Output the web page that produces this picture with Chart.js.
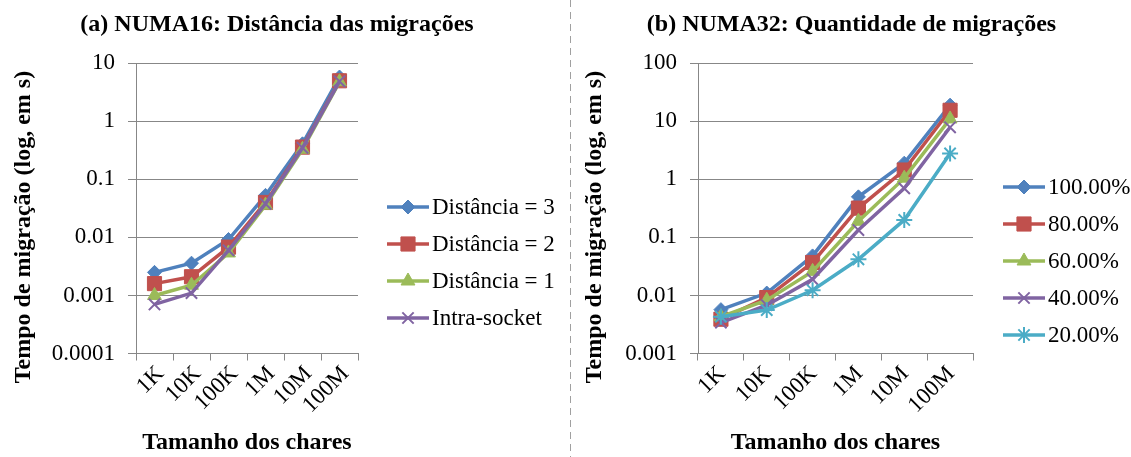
<!DOCTYPE html>
<html>
<head>
<meta charset="utf-8">
<script src="https://cdn.jsdelivr.net/npm/chart.js"></script>
<style>
  html, body { margin: 0; padding: 0; background: #fff; }
  body { width: 1131px; height: 457px; position: relative; overflow: hidden; }
  #left { position: absolute; left: 0; top: 0; }
  #right { position: absolute; left: 572px; top: 0; }
  #sep {
    position: absolute; left: 570px; top: 0; width: 1px; height: 457px;
    background: repeating-linear-gradient(to bottom, #a0a0a0 0 7px, transparent 7px 12px);
  }
</style>
</head>
<body>
<canvas id="left" width="570" height="457"></canvas>
<div id="sep"></div>
<canvas id="right" width="559" height="457"></canvas>
<script>
// categories (x axis)
const categories = ['1K', '10K', '100K', '1M', '10M', '100M'];

// (a) NUMA16 - migration time per distance (s)
const dist3 = [0.0025, 0.0036, 0.0092, 0.053, 0.41, 5.8];
const dist2 = [0.0016, 0.0021, 0.0068, 0.040, 0.36, 5.0];
const dist1 = [0.0010, 0.0015, 0.0054, 0.036, 0.33, 4.8];
const intraSocket = [0.0007, 0.0011, 0.0060, 0.038, 0.35, 4.9];

// (b) NUMA32 - migration time per amount of migrations (s)
const pct100 = [0.0057, 0.011, 0.048, 0.50, 1.9, 19];
const pct80 = [0.0039, 0.0092, 0.037, 0.32, 1.45, 15.5];
const pct60 = [0.0043, 0.0083, 0.026, 0.19, 1.05, 11];
const pct40 = [0.0034, 0.0068, 0.019, 0.134, 0.70, 7.9];
const pct20 = [0.0043, 0.0056, 0.0123, 0.042, 0.20, 2.8];

// y tick values and labels
const leftTicks = [0.0001, 0.001, 0.01, 0.1, 1, 10];
const leftTickLabels = ['0.0001', '0.001', '0.01', '0.1', '1', '10'];
const rightTicks = [0.001, 0.01, 0.1, 1, 10, 100];
const rightTickLabels = ['0.001', '0.01', '0.1', '1', '10', '100'];

const FONT = 'Liberation Serif';
Chart.defaults.font.family = FONT;
Chart.defaults.color = '#000';

const gridColor = '#878787';

const styles = [
  { color: '#4F81BD', pointStyle: 'rectRot', radius: 7, bw: 1 },
  { color: '#C0504D', pointStyle: 'rect', radius: 10, bw: 1 },
  { color: '#9BBB59', pointStyle: 'triangle', radius: 8, bw: 1 },
  { color: '#8064A2', pointStyle: 'crossRot', radius: 8, bw: 2 },
  { color: '#4BACC6', pointStyle: 'star', radius: 8, bw: 2 }
];

function makeDataset(label, data, i, n) {
  const s = styles[i];
  return {
    label: label,
    data: data,
    borderColor: s.color,
    backgroundColor: s.color,
    borderWidth: 3.5,
    pointStyle: s.pointStyle,
    pointRadius: s.radius,
    pointBorderWidth: s.bw,
    pointBackgroundColor: s.color,
    pointBorderColor: s.color,
    tension: 0,
    order: n - i
  };
}

// legend (line + marker) and the vertical axis title
const sideText = {
  id: 'sideText',
  afterDraw(chart, args, opts) {
    const ctx = chart.ctx;
    ctx.save();
    chart.data.datasets.forEach((ds, i) => {
      const s = styles[i];
      const y = opts.y + i * opts.step;
      ctx.strokeStyle = s.color;
      ctx.lineWidth = 3.5;
      ctx.beginPath();
      ctx.moveTo(opts.x, y);
      ctx.lineTo(opts.x + 42, y);
      ctx.stroke();
      ctx.fillStyle = s.color;
      ctx.lineWidth = s.bw;
      Chart.helpers.drawPoint(ctx, {
        pointStyle: s.pointStyle, radius: s.radius, rotation: 0, borderWidth: s.bw
      }, opts.x + 21, y);
      ctx.fillStyle = '#000';
      ctx.font = '23px "' + FONT + '"';
      ctx.textBaseline = 'middle';
      ctx.textAlign = 'left';
      ctx.fillText(ds.label, opts.x + 45, y + 1);
    });
    // y axis title
    ctx.translate(opts.titleX, opts.titleY);
    ctx.rotate(-Math.PI / 2);
    ctx.font = 'bold 24px "' + FONT + '"';
    ctx.fillStyle = '#000';
    ctx.textAlign = 'center';
    ctx.textBaseline = 'middle';
    ctx.fillText('Tempo de migração (log, em s)', 0, 0);
    ctx.restore();
  }
};

function makeChart(canvasId, cfg) {
  return new Chart(document.getElementById(canvasId), {
    type: 'line',
    data: { labels: categories, datasets: cfg.datasets },
    plugins: [sideText],
    options: {
      responsive: false,
      animation: false,
      devicePixelRatio: 1,
      layout: { padding: { left: 0, top: 0, bottom: 0, right: cfg.padRight } },
      plugins: {
        legend: { display: false },
        tooltip: { enabled: false },
        title: {
          display: true,
          text: cfg.title,
          font: { size: 24, weight: 'bold' },
          color: '#000',
          padding: { top: 10.5, bottom: 24 }
        },
        sideText: cfg.side
      },
      scales: {
        x: {
          type: 'category',
          offset: true,
          afterFit: s => { s.height = 103.5; },
          grid: { offset: true, drawOnChartArea: false, drawTicks: true, tickLength: 7, color: gridColor },
          border: { color: gridColor, width: 1 },
          ticks: {
            minRotation: 45, maxRotation: 45, autoSkip: false,
            font: { size: 23 }, color: '#000', padding: 0, labelOffset: cfg.labelOffset
          },
          title: {
            display: true, text: 'Tamanho dos chares',
            font: { size: 24, weight: 'bold' }, color: '#000', padding: { top: 0, bottom: 0 }
          }
        },
        y: {
          type: 'logarithmic',
          min: cfg.ticks[0],
          max: cfg.ticks[cfg.ticks.length - 1],
          afterBuildTicks: s => { s.ticks = cfg.ticks.map(v => ({ value: v })); },
          afterFit: s => { s.width = cfg.yWidth; },
          grid: { color: gridColor, lineWidth: 1, tickLength: 8, drawTicks: true },
          border: { color: gridColor, width: 1 },
          ticks: {
            autoSkip: false,
            font: { size: 23 }, color: '#000', padding: 13,
            callback: (v, i) => cfg.tickLabels[i]
          },
          title: { display: false }
        },
        pad: {
          type: 'linear', position: 'right', display: true,
          afterFit: s => { s.width = cfg.padWidth; },
          ticks: { display: false },
          grid: { display: false, drawTicks: false },
          border: { display: false }
        }
      }
    }
  });
}

makeChart('left', {
  title: '(a) NUMA16: Distância das migrações',
  datasets: [
    makeDataset('Distância = 3', dist3, 0, 4),
    makeDataset('Distância = 2', dist2, 1, 4),
    makeDataset('Distância = 1', dist1, 2, 4),
    makeDataset('Intra-socket', intraSocket, 3, 4)
  ],
  ticks: leftTicks,
  tickLabels: leftTickLabels,
  yWidth: 136,
  padRight: 16,
  padWidth: 196,
  labelOffset: 6,
  side: { x: 387, y: 207, step: 37, titleX: 24, titleY: 227 }
});

makeChart('right', {
  title: '(b) NUMA32: Quantidade de migrações',
  datasets: [
    makeDataset('100.00%', pct100, 0, 5),
    makeDataset('80.00%', pct80, 1, 5),
    makeDataset('60.00%', pct60, 2, 5),
    makeDataset('40.00%', pct40, 3, 5),
    makeDataset('20.00%', pct20, 4, 5)
  ],
  ticks: rightTicks,
  tickLabels: rightTickLabels,
  yWidth: 126,
  padRight: 0,
  padWidth: 158,
  labelOffset: 1,
  side: { x: 431, y: 187, step: 37, titleX: 23, titleY: 227 }
});
</script>
</body>
</html>
